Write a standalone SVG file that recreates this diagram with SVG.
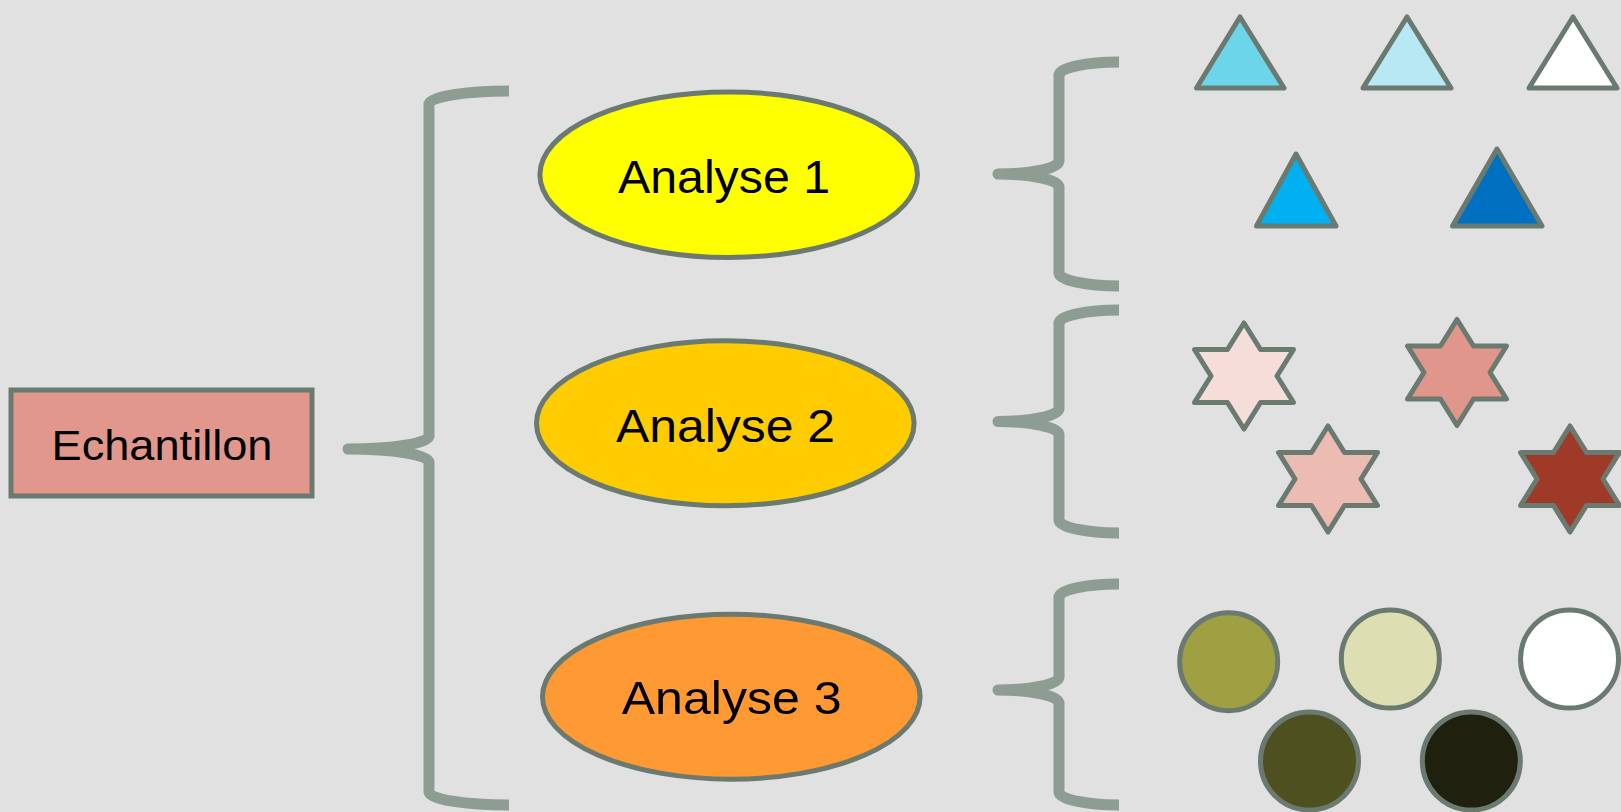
<svg xmlns="http://www.w3.org/2000/svg" xmlns:xlink="http://www.w3.org/1999/xlink" width="1621" height="812" viewBox="0 0 1621 812">
<style>
.bg{fill:#E1E1E1}
.brace{fill:none;stroke:#8D9D93;stroke-width:11;stroke-linejoin:round;stroke-linecap:butt}
.node{stroke:#6B7A70;stroke-width:5}
.shape{stroke:#6B7A70;stroke-width:5;stroke-linejoin:round}
.lbl{font-family:"Liberation Sans",Arial,sans-serif;fill:#000;text-anchor:middle}
</style>
<defs>
<polygon id="star" points="0,-53 16.5,-26.5 49.5,-26.5 33,0 49.5,26.5 16.5,26.5 0,53 -16.5,26.5 -49.5,26.5 -33,0 -49.5,-26.5 -16.5,-26.5"/>
</defs>
<rect class="bg" x="0" y="0" width="1621" height="812"/>

<g id="connectors">
<path class="brace" d="M 509 91 A 80 13 0 0 0 429 104 L 429 436 A 81 13 0 0 1 348 449 A 81 13 0 0 1 429 462 L 429 792 A 80 13 0 0 0 509 805"/>
<path class="brace" d="M 1119 62 A 60 13 0 0 0 1059 75 L 1059 161 A 61 13 0 0 1 998 174 A 61 13 0 0 1 1059 187 L 1059 273 A 60 13 0 0 0 1119 286"/>
<path class="brace" d="M 1119 310 A 60 13 0 0 0 1059 323 L 1059 408.5 A 61 13 0 0 1 998 421.5 A 61 13 0 0 1 1059 434.5 L 1059 520 A 60 13 0 0 0 1119 533"/>
<path class="brace" d="M 1119 584 A 60 13 0 0 0 1059 597 L 1059 677 A 61 13 0 0 1 998 690 A 61 13 0 0 1 1059 703 L 1059 792 A 60 13 0 0 0 1119 805"/>
</g>

<g id="echantillon">
<rect class="node" x="11" y="390" width="301" height="106" fill="#E1978B"/>
<text class="lbl" x="162" y="459.5" font-size="43" textLength="221" lengthAdjust="spacingAndGlyphs">Echantillon</text>
</g>

<g id="analyse1">
<ellipse class="node" cx="728.7" cy="174.7" rx="188.8" ry="82.8" fill="#FFFF00"/>
<text class="lbl" x="724" y="193" font-size="46" textLength="212" lengthAdjust="spacingAndGlyphs">Analyse 1</text>
</g>

<g id="analyse2">
<ellipse class="node" cx="725.3" cy="423.3" rx="188.8" ry="82.5" fill="#FFCC00"/>
<text class="lbl" x="725.5" y="442" font-size="46" textLength="219" lengthAdjust="spacingAndGlyphs">Analyse 2</text>
</g>

<g id="analyse3">
<ellipse class="node" cx="731.3" cy="696.7" rx="188.8" ry="82.5" fill="#FF9933"/>
<text class="lbl" x="731.7" y="714" font-size="46" textLength="220" lengthAdjust="spacingAndGlyphs">Analyse 3</text>
</g>

<g id="triangles">
<polygon class="shape" points="1240,17 1284,88 1196.5,88" fill="#6DD5E9"/>
<polygon class="shape" points="1407,17 1451,88 1363,88" fill="#B7E8F3"/>
<polygon class="shape" points="1573,17 1617,88 1529,88" fill="#FFFFFF"/>
<polygon class="shape" points="1296,154 1336,226 1256.5,226" fill="#00B0F0"/>
<polygon class="shape" points="1497,149 1542,226 1452.5,226" fill="#0070C0"/>
</g>

<g id="stars">
<use class="shape" xlink:href="#star" href="#star" x="1244" y="376" fill="#F5DEDA"/>
<use class="shape" xlink:href="#star" href="#star" x="1457" y="372.5" fill="#E1968B"/>
<use class="shape" xlink:href="#star" href="#star" x="1328" y="479" fill="#ECBBB1"/>
<use class="shape" xlink:href="#star" href="#star" x="1570" y="479" fill="#A03A28"/>
</g>

<g id="circles">
<circle class="shape" cx="1228.7" cy="661.7" r="49" fill="#9EA041"/>
<circle class="shape" cx="1390.3" cy="659" r="49" fill="#DDDEB1"/>
<circle class="shape" cx="1569.5" cy="659" r="49" fill="#FFFFFF"/>
<circle class="shape" cx="1309.5" cy="761" r="49" fill="#4F5020"/>
<circle class="shape" cx="1471.3" cy="761" r="49" fill="#1F200E"/>
</g>
</svg>
